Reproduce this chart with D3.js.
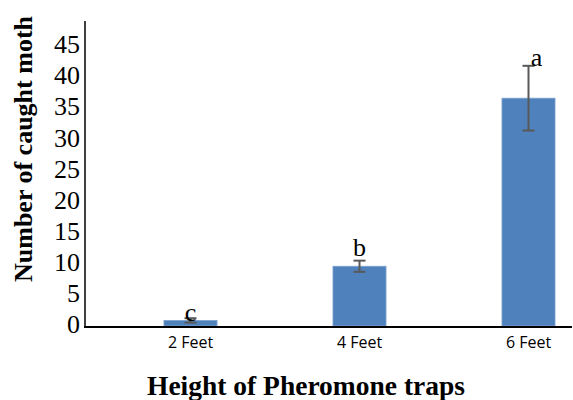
<!DOCTYPE html>
<html>
<head>
<meta charset="utf-8">
<script src="https://cdn.jsdelivr.net/npm/d3@7"></script>
<style>
  body { margin: 0; background: #fff; }
  svg { display: block; }
</style>
</head>
<body>
<div id="chart"></div>
<script>
// values
const heights = ["2 Feet", "4 Feet", "6 Feet"];
const meanCatch = [0.9, 9.6, 36.6];
const errCatch = [0.35, 0.9, 5.2];
const groupLetters = ["c", "b", "a"];
const yTicks = [0, 5, 10, 15, 20, 25, 30, 35, 40, 45];

const width = 573;
const height = 400;
const serif = "Liberation Serif, Times New Roman, serif";

const x = d3.scaleBand()
    .domain(heights)
    .range([106, 613])
    .paddingInner(0.686)
    .paddingOuter(0.343);

const y = d3.scaleLinear()
    .domain([0, 49])
    .range([326, 21]);

const svg = d3.select("#chart").append("svg")
    .attr("width", width)
    .attr("height", height);

// bars
svg.append("g")
  .selectAll("rect")
  .data(heights)
  .join("rect")
    .attr("x", d => x(d))
    .attr("width", x.bandwidth())
    .attr("y", (d, i) => y(meanCatch[i]))
    .attr("height", (d, i) => y(0) - y(meanCatch[i]))
    .attr("fill", "#4f81bd")
    .attr("stroke", "#7fa3d0")
    .attr("stroke-width", 0.8);

// error bars
const err = svg.append("g")
    .attr("stroke", "#595959")
    .attr("stroke-width", 2)
  .selectAll("g")
  .data(heights)
  .join("g")
    .attr("transform", d => `translate(${x(d) + x.bandwidth() / 2},0)`);

err.append("line")
    .attr("y1", (d, i) => y(meanCatch[i] + errCatch[i]))
    .attr("y2", (d, i) => y(meanCatch[i] - errCatch[i]));
err.append("line")
    .attr("x1", -6).attr("x2", 6)
    .attr("y1", (d, i) => y(meanCatch[i] + errCatch[i]))
    .attr("y2", (d, i) => y(meanCatch[i] + errCatch[i]));
err.append("line")
    .attr("x1", -6).attr("x2", 6)
    .attr("y1", (d, i) => y(meanCatch[i] - errCatch[i]))
    .attr("y2", (d, i) => y(meanCatch[i] - errCatch[i]));

// significance letters
svg.append("g")
    .attr("font-family", serif)
    .attr("font-size", 26)
    .attr("text-anchor", "middle")
  .selectAll("text")
  .data(heights)
  .join("text")
    .attr("x", (d, i) => x(d) + x.bandwidth() / 2 + (i === 2 ? 8 : 0))
    .attr("y", (d, i) => y(meanCatch[i] + errCatch[i]) - (i === 1 ? 5 : i === 0 ? -3 : 0))
    .text((d, i) => groupLetters[i]);

// y axis
const yAxis = svg.append("g")
    .attr("transform", "translate(85,0)")
    .call(d3.axisLeft(y).tickValues(yTicks).tickSize(0).tickSizeOuter(0).tickPadding(5))
    .attr("font-family", serif)
    .attr("font-size", 26);
yAxis.select(".domain")
    .attr("stroke", "#000")
    .attr("stroke-width", 1.5)
    .attr("d", `M0,${y.range()[1]}V${y(0) + 2}`);
yAxis.selectAll("text")
    .attr("dy", "0.26em")
    .attr("fill", "#000");

// x axis
const xAxis = svg.append("g")
    .attr("transform", `translate(0,${y(0) + 1})`)
    .call(d3.axisBottom(x).tickSize(0).tickPadding(10))
    .attr("font-family", "Open Sans, sans-serif")
    .attr("font-size", 16);
xAxis.select(".domain").remove();
xAxis.append("line")
    .attr("x1", 84).attr("x2", 572)
    .attr("stroke", "#000")
    .attr("stroke-width", 2);
xAxis.selectAll("text")
    .attr("fill", "#000");

// titles
svg.append("text")
    .attr("transform", "translate(32,149) rotate(-90)")
    .attr("text-anchor", "middle")
    .attr("font-family", serif)
    .attr("font-weight", "bold")
    .attr("font-size", 26)
    .text("Number of caught moth");

svg.append("text")
    .attr("x", 306)
    .attr("y", 395)
    .attr("text-anchor", "middle")
    .attr("font-family", serif)
    .attr("font-weight", "bold")
    .attr("font-size", 27.5)
    .text("Height of Pheromone traps");
</script>
</body>
</html>
